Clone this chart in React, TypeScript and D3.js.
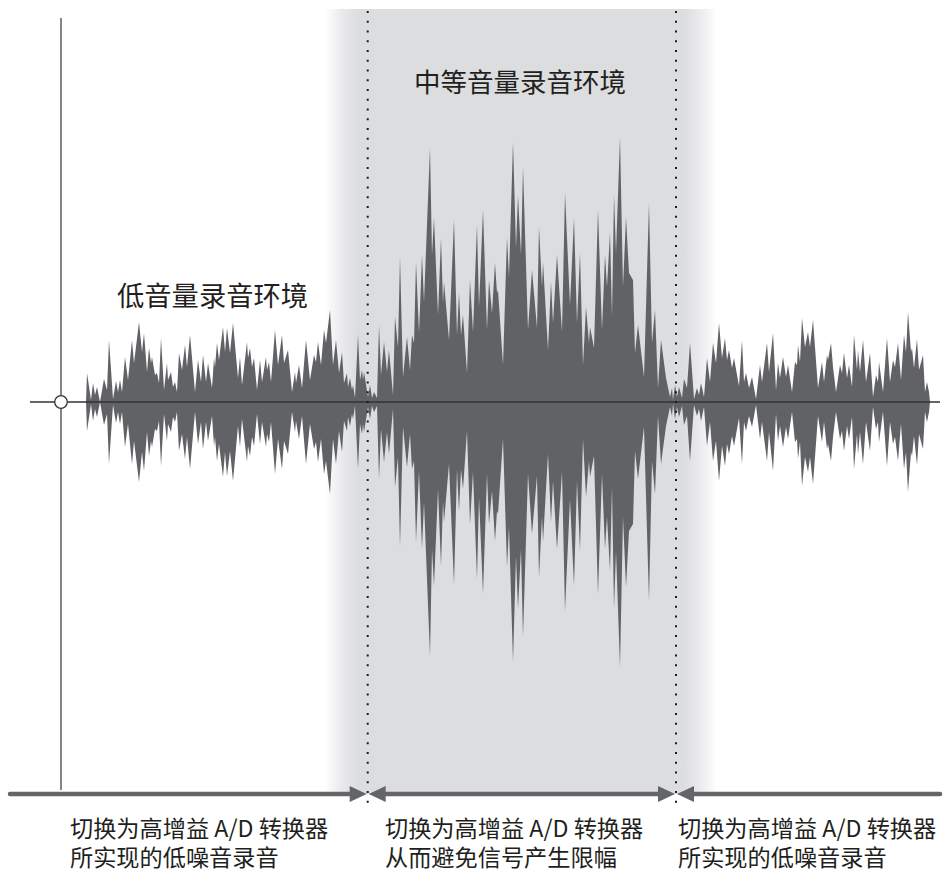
import React from "react";
import * as d3 from "d3";

// ---- Data (time in arbitrary units from start of waveform, level = envelope amplitude) ----
const WAVE_TIME = [
  0, 1, 5, 7, 9, 11, 14, 18, 21, 23, 27, 30, 32, 34, 36, 39, 42, 46, 48, 53, 56, 58, 61, 63, 65, 66, 69, 71, 73, 75, 78, 81, 82, 85, 87, 89, 91, 93, 96, 99, 101, 104, 109, 112, 115, 117, 120, 122, 126, 128, 129, 131, 133, 137, 139, 141,
  144, 147, 152, 154, 156, 161, 162, 164, 166, 168, 171, 174, 176, 180, 181, 183, 185, 189, 192, 196, 198, 202, 206, 209, 210, 213, 216, 220, 224, 228, 230, 232, 235, 238, 240, 244, 247, 250, 253, 256, 258, 261, 262, 264, 266, 267, 269, 272, 274, 276, 277, 278, 282, 284, 286, 288, 291,
  293, 295, 298, 301, 303, 307, 309, 312, 314, 317, 321, 324, 326, 328, 330, 333, 336, 338, 344, 346, 348, 352, 355, 357, 358, 363, 368, 371, 373, 375, 377, 381, 384, 387, 391, 393, 397, 401, 403, 406, 409, 411, 412, 417, 421, 423, 427, 430, 432, 435, 437, 442,
  446, 451, 453, 456, 457, 462, 465, 467, 471, 476, 479, 484, 488, 491, 494, 497, 500, 503, 504, 508, 512, 516, 519, 521, 524, 526, 528, 530, 534, 537, 540, 543, 547, 549, 552, 558, 563, 566, 569, 572, 575, 580, 584, 586, 587, 589, 591, 593, 596, 598, 601,
  604, 608, 611, 613, 615, 618, 621, 624, 627, 630, 633, 636, 639, 641, 643, 646, 648, 653, 656, 658, 660, 663, 666, 670, 674, 676, 681, 683, 687, 690, 692, 694, 697, 700, 702, 706, 709, 711, 712, 714, 716, 719, 722, 724, 727,
  732, 736, 738, 741, 742, 745, 747, 750, 754, 756, 758, 761, 763, 766, 768, 771, 772, 774, 777, 780, 784, 787, 790, 792, 793, 797, 801, 804, 807, 809, 812, 815, 818, 820, 822, 825, 826, 828, 831, 833, 837, 839, 841, 843, 844,
];
const WAVE_LEVEL = [
  0, 29, 2, 19, 7, 15, 0, 23, 12, 62, 3, 21, 10, 22, 10, 45, 22, 62, 39, 80, 50, 69, 30, 54, 39, 45, 27, 29, 19, 64, 12, 39, 22, 30, 15, 20, 10, 49, 32, 57, 35, 67, 10, 42, 20, 47, 20, 39, 14, 44, 35, 59, 42, 75, 50, 74,
  49, 79, 24, 45, 17, 60, 44, 54, 35, 44, 12, 42, 20, 45, 32, 40, 20, 72, 37, 67, 39, 52, 10, 30, 19, 37, 14, 62, 22, 47, 40, 60, 37, 72, 59, 92, 37, 62, 29, 50, 19, 29, 15, 24, 12, 17, 4, 67, 22, 32, 22, 30, 5, 17, 4, 10, 4,
  77, 27, 60, 30, 52, 7, 85, 55, 145, 25, 65, 32, 67, 59, 140, 69, 147, 100, 254, 147, 184, 87, 164, 99, 120, 62, 182, 67, 109, 67, 87, 29, 122, 70, 177, 95, 192, 72, 122, 89, 139, 109, 112, 37, 165, 125, 260, 154, 207, 147, 235, 72,
  132, 74, 175, 115, 140, 52, 120, 79, 147, 70, 209, 97, 184, 79, 149, 37, 95, 59, 75, 54, 192, 72, 147, 115, 169, 85, 207, 149, 265, 115, 185, 129, 122, 49, 77, 25, 199, 59, 92, 14, 62, 24, 5, 14, 2, 17, 5, 15, 4, 23, 14,
  59, 3, 14, 7, 19, 5, 44, 20, 59, 39, 79, 44, 64, 42, 52, 34, 44, 16, 62, 20, 29, 14, 25, 3, 37, 20, 59, 30, 69, 12, 39, 24, 45, 25, 37, 10, 40, 37, 57, 40, 84, 55, 70, 55, 82,
  14, 40, 20, 47, 42, 59, 35, 10, 37, 29, 49, 24, 37, 15, 67, 32, 52, 30, 62, 20, 49, 5, 27, 20, 40, 10, 64, 20, 42, 35, 59, 22, 67, 50, 90, 50, 54, 34, 63, 32, 47, 10, 20, 10, 0,
];

// switching points between A/D converters (same time units)
const SWITCH_TIMES = [281.7, 590];
// the medium-volume zone (solid part and its faded outer edges)
const ZONE_OUTER = [239, 631];
const ZONE_INNER = [271, 597];

const TITLE_MID = "中等音量录音环境";
const TITLE_LOW = "低音量录音环境";
const CAPTIONS = [
  ["切换为高增益 A/D 转换器", "所实现的低噪音录音"],
  ["切换为高增益 A/D 转换器", "从而避免信号产生限幅"],
  ["切换为高增益 A/D 转换器", "所实现的低噪音录音"],
];

const W = 945;
const H = 870;
const CY = 402;
const AXIS_X = 61;
const FONT = "'Noto Sans CJK SC', 'Noto Sans', sans-serif";
const WAVE_COLOR = "#616265";
const BAND_COLOR = "#dcdddf";
const ARROW_COLOR = "#646568";
const ARROW_Y = 794;

export default function App() {
  const x = d3.scaleLinear().domain([0, 844]).range([86, 930]);
  const amp = d3.scaleLinear().domain([0, 265]).range([0, 265]);

  const pts = WAVE_TIME.map((t, i) => ({ t, v: WAVE_LEVEL[i] }));
  const area = d3
    .area<{ t: number; v: number }>()
    .x((d) => x(d.t))
    .y0((d) => CY + amp(d.v))
    .y1((d) => CY - amp(d.v));

  const bx0 = x(ZONE_OUTER[0]);
  const bx1 = x(ZONE_OUTER[1]);
  const bw = bx1 - bx0;
  const f0 = (x(ZONE_INNER[0]) - bx0) / bw;
  const f1 = (x(ZONE_INNER[1]) - bx0) / bw;

  const s0 = x(SWITCH_TIMES[0]);
  const s1 = x(SWITCH_TIMES[1]);

  const ah = 8; // arrowhead half height
  const al = 17; // arrowhead length
  const tri = (tip: number, dir: number) =>
    `M${tip},${ARROW_Y} L${tip - dir * al},${ARROW_Y - ah} L${tip - dir * al},${ARROW_Y + ah} Z`;

  const segs = [
    [10, s0 - 1 - al + 2],
    [s0 + 1 + al - 2, s1 - 1 - al + 2],
    [s1 + 1 + al - 2, 940],
  ];

  const capX = [70, 385, 678];

  return (
    <svg width={W} height={H} style={{ display: "block", position: "absolute", left: 0, top: 0 }}>
      <defs>
        <linearGradient id="band" x1="0" x2="1" y1="0" y2="0">
          <stop offset="0" stopColor={BAND_COLOR} stopOpacity={0} />
          <stop offset={f0 * 0.5} stopColor={BAND_COLOR} stopOpacity={0.6} />
          <stop offset={f0} stopColor={BAND_COLOR} stopOpacity={1} />
          <stop offset={f1} stopColor={BAND_COLOR} stopOpacity={1} />
          <stop offset={f1 + (1 - f1) * 0.5} stopColor={BAND_COLOR} stopOpacity={0.6} />
          <stop offset="1" stopColor={BAND_COLOR} stopOpacity={0} />
        </linearGradient>
      </defs>
      <rect x={0} y={0} width={W} height={H} fill="#fff" />
      <rect x={bx0} y={9} width={bw} height={ARROW_Y - 9} fill="url(#band)" />

      {/* vertical axis */}
      <line x1={AXIS_X} x2={AXIS_X} y1={18} y2={790} stroke="#333" strokeWidth={1.2} />

      {/* waveform */}
      <path d={area(pts) || ""} fill={WAVE_COLOR} />

      {/* baseline */}
      <line x1={30} x2={940} y1={CY} y2={CY} stroke="#333" strokeWidth={1.3} />
      <circle cx={AXIS_X} cy={CY} r={6.3} fill="#fff" stroke="#333" strokeWidth={1.3} />

      {/* dotted switch lines */}
      {[s0, s1].map((sx, i) => (
        <line key={i} x1={sx} x2={sx} y1={11} y2={806} stroke="#1a1a1a" strokeWidth={2} strokeDasharray="2 7.75" />
      ))}

      {/* arrows */}
      {segs.map((s, i) => (
        <line key={i} x1={s[0]} x2={s[1]} y1={ARROW_Y} y2={ARROW_Y} stroke={ARROW_COLOR} strokeWidth={4.5} strokeLinecap="round" />
      ))}
      <path d={tri(s0 - 1, 1)} fill={ARROW_COLOR} />
      <path d={tri(s0 + 1, -1)} fill={ARROW_COLOR} />
      <path d={tri(s1 - 1, 1)} fill={ARROW_COLOR} />
      <path d={tri(s1 + 1, -1)} fill={ARROW_COLOR} />

      {/* titles */}
      <text x={520} y={80} fontFamily={FONT} fontSize={26.5} fill="#231f20" textAnchor="middle" dominantBaseline="central">
        {TITLE_MID}
      </text>
      <text x={117} y={294} fontFamily={FONT} fontSize={27.3} fill="#231f20" dominantBaseline="central">
        {TITLE_LOW}
      </text>

      {CAPTIONS.map((lines, i) =>
        lines.map((ln, j) => (
          <text key={`${i}-${j}`} x={capX[i]} y={827 + j * 29} fontFamily={FONT} fontSize={23.2} fill="#231f20" dominantBaseline="central">
            {ln}
          </text>
        ))
      )}
    </svg>
  );
}
